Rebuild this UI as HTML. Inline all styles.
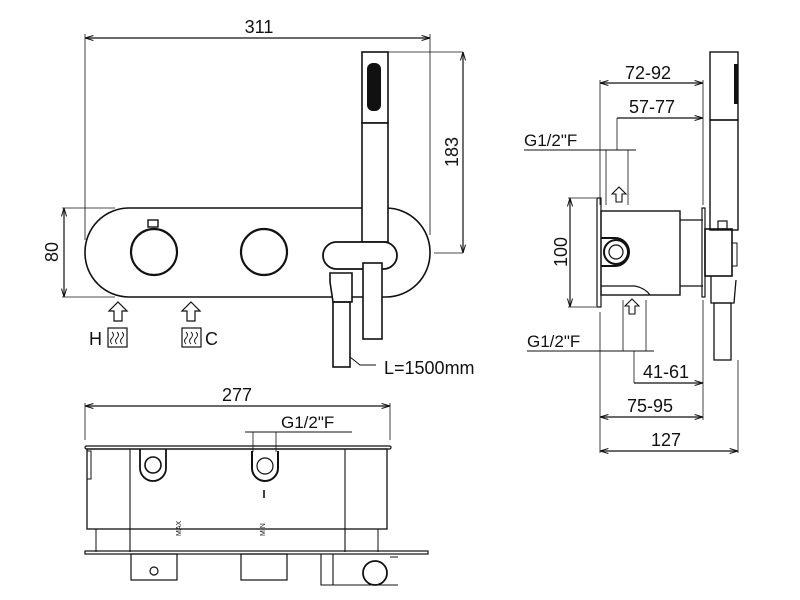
<!DOCTYPE html>
<html><head><meta charset="utf-8"><style>
html,body{margin:0;padding:0;background:#fff;}
svg{display:block;}
text{font-family:"Liberation Sans",Arial,sans-serif;fill:#111;}
</style></head><body>
<svg width="800" height="600" viewBox="0 0 800 600" xmlns="http://www.w3.org/2000/svg">
<defs>
<marker id="a" viewBox="0 0 10 10" refX="10" refY="5" markerWidth="7" markerHeight="7" orient="auto-start-reverse"><path d="M0,2 L10,5 L0,8" fill="none" stroke="#111" stroke-width="1.2"/></marker>
</defs>
<g fill="none" stroke="#111" stroke-width="1.2">
<!-- FRONT VIEW -->
<line x1="85" y1="38" x2="430" y2="38" marker-start="url(#a)" marker-end="url(#a)"/>
<line x1="85" y1="34" x2="85" y2="240" stroke-width="0.8"/>
<line x1="430" y1="34" x2="430" y2="235" stroke-width="0.8"/>
<rect x="85" y="208" width="345" height="89" rx="44" ry="44" stroke-width="1.6"/>
<circle cx="154" cy="252" r="23" stroke-width="2.2"/>
<rect x="148" y="220" width="10" height="7" stroke-width="1.4"/>
<circle cx="264" cy="252" r="23" stroke-width="2.2"/>
<rect x="362" y="52" width="26" height="71" stroke-width="1.6" fill="#fff"/>
<rect x="362" y="123" width="26" height="119" stroke-width="1.6" fill="#fff"/>
<rect x="367" y="63" width="14" height="48" rx="6" fill="#111" stroke="none"/>
<line x1="388" y1="52" x2="463" y2="52" stroke-width="0.8"/>
<line x1="434" y1="253" x2="463" y2="253" stroke-width="0.8"/>
<line x1="463" y1="52" x2="463" y2="253" marker-start="url(#a)" marker-end="url(#a)"/>
<rect x="323" y="242" width="74" height="27" rx="13.5" stroke-width="1.8" fill="#fff"/>
<path d="M330,273 L352,273 L352,302 L333,302 L330,282 Z" stroke-width="1.6" fill="#fff"/>
<rect x="333" y="302" width="17" height="65" stroke-width="1.6"/>
<rect x="363" y="263" width="19" height="76" stroke-width="1.6" fill="#fff"/>
<path d="M350,357 L360,365 L376,365" stroke-width="1"/>
<line x1="64" y1="208" x2="64" y2="297" marker-start="url(#a)" marker-end="url(#a)"/>
<line x1="62" y1="208" x2="115" y2="208" stroke-width="0.8"/>
<line x1="62" y1="297" x2="115" y2="297" stroke-width="0.8"/>
<path d="M118,302 L127,311 L122,311 L122,321 L114,321 L114,311 L109,311 Z" stroke-width="1.2"/>
<path d="M191,302 L200,311 L195,311 L195,321 L187,321 L187,311 L182,311 Z" stroke-width="1.2"/>
<rect x="108" y="328" width="19" height="19" stroke-width="1.2"/>
<path d="M112,332 q3,3 0,6 q-3,3 0,6 M117,332 q3,3 0,6 q-3,3 0,6 M122,332 q3,3 0,6 q-3,3 0,6" stroke-width="0.9"/>
<rect x="182" y="328" width="19" height="19" stroke-width="1.2"/>
<path d="M186,332 q3,3 0,6 q-3,3 0,6 M191,332 q3,3 0,6 q-3,3 0,6 M196,332 q3,3 0,6 q-3,3 0,6" stroke-width="0.9"/>

<!-- SIDE VIEW -->
<line x1="600" y1="83" x2="703" y2="83" marker-start="url(#a)" marker-end="url(#a)"/>
<line x1="617" y1="118" x2="703" y2="118" marker-end="url(#a)"/>
<line x1="617" y1="118" x2="617" y2="150" stroke-width="0.8"/>
<line x1="600" y1="80" x2="600" y2="205" stroke-width="0.8"/>
<line x1="703" y1="80" x2="703" y2="205" stroke-width="0.8"/>
<line x1="524" y1="150" x2="636" y2="150" stroke-width="0.9"/>
<line x1="606" y1="150" x2="606" y2="205" stroke-width="0.8"/>
<line x1="628" y1="150" x2="628" y2="205" stroke-width="0.8"/>
<path d="M619,187 L626,194 L622,194 L622,202 L616,202 L616,194 L612,194 Z" stroke-width="1.1"/>
<rect x="597" y="198" width="4" height="109" stroke-width="1.2"/>
<rect x="601" y="211" width="79" height="84" stroke-width="1.4"/>
<path d="M680,220 L703,220 M680,286 L703,286" stroke-width="1.2"/>
<rect x="702" y="208" width="3" height="89" stroke-width="1.2"/>
<path d="M601,238 L615,238 A14,14 0 0 1 615,266 L601,266" stroke-width="2"/>
<circle cx="616" cy="252" r="12" stroke-width="2"/>
<circle cx="616" cy="252" r="7" stroke-width="1.2"/>
<path d="M601,286 L635,286 Q645,288 650,295" stroke-width="1.2"/>
<line x1="570" y1="198" x2="570" y2="307" marker-start="url(#a)" marker-end="url(#a)"/>
<line x1="568" y1="198" x2="596" y2="198" stroke-width="0.8"/>
<line x1="568" y1="307" x2="596" y2="307" stroke-width="0.8"/>
<rect x="710" y="52" width="28" height="68" stroke-width="1.4"/>
<rect x="710" y="120" width="28" height="110" stroke-width="1.4"/>
<rect x="734" y="64" width="4" height="40" fill="#111" stroke="none"/>
<rect x="705" y="229" width="27" height="47" stroke-width="1.6"/>
<rect x="718" y="221" width="9" height="8" stroke-width="1.2"/>
<rect x="732" y="243" width="5" height="23" stroke-width="1"/>
<path d="M711,276 L711,303 L734,303 L736,280" stroke-width="1.3"/>
<rect x="714" y="303" width="17" height="57" stroke-width="1.3"/>
<line x1="527" y1="351" x2="654" y2="351" stroke-width="0.9"/>
<line x1="623" y1="300" x2="623" y2="351" stroke-width="0.8"/>
<line x1="646" y1="300" x2="646" y2="351" stroke-width="0.8"/>
<path d="M632,299 L639,306 L635,306 L635,314 L629,314 L629,306 L625,306 Z" stroke-width="1.1"/>
<line x1="634" y1="351" x2="634" y2="383" stroke-width="0.8"/>
<line x1="634" y1="383" x2="703" y2="383" marker-end="url(#a)"/>
<line x1="600" y1="312" x2="600" y2="453" stroke-width="0.8"/>
<line x1="703" y1="300" x2="703" y2="420" stroke-width="0.8"/>
<line x1="738" y1="360" x2="738" y2="453" stroke-width="0.8"/>
<line x1="600" y1="417" x2="703" y2="417" marker-start="url(#a)" marker-end="url(#a)"/>
<line x1="600" y1="451" x2="738" y2="451" marker-start="url(#a)" marker-end="url(#a)"/>

<!-- TOP VIEW -->
<line x1="85" y1="406" x2="390" y2="406" marker-start="url(#a)" marker-end="url(#a)"/>
<line x1="85" y1="403" x2="85" y2="440" stroke-width="0.8"/>
<line x1="390" y1="403" x2="390" y2="440" stroke-width="0.8"/>
<line x1="245" y1="432" x2="352" y2="432" stroke-width="0.9"/>
<line x1="253" y1="432" x2="253" y2="452" stroke-width="0.8"/>
<line x1="276" y1="432" x2="276" y2="452" stroke-width="0.8"/>
<rect x="85" y="446" width="306" height="3" rx="1.5" stroke-width="1.2"/>
<rect x="87" y="449" width="300" height="80" stroke-width="1.3"/>
<line x1="130" y1="449" x2="130" y2="552" stroke-width="1.1"/>
<line x1="345" y1="449" x2="345" y2="552" stroke-width="1.1"/>
<rect x="87" y="451" width="4" height="28" stroke-width="1"/>
<path d="M140,449 L140,468 A13,13 0 0 0 166,468 L166,449" stroke-width="1.8"/>
<circle cx="153" cy="465" r="8" stroke-width="1.6"/>
<path d="M252,451 L252,468 A13,13 0 0 0 278,468 L278,451" stroke-width="2"/>
<circle cx="265" cy="466" r="8" stroke-width="1.2"/>
<line x1="264" y1="490" x2="264" y2="498" stroke-width="1.6"/>
<line x1="96" y1="529" x2="96" y2="552" stroke-width="1"/>
<line x1="378" y1="529" x2="378" y2="552" stroke-width="1"/>
<rect x="85" y="551" width="343" height="3" stroke-width="1.2"/>
<rect x="131" y="554" width="46" height="26" stroke-width="1.2"/>
<circle cx="154" cy="571" r="4" stroke-width="1.2"/>
<rect x="241" y="554" width="46" height="26" stroke-width="1.2"/>
<path d="M321,554 L321,585 L398,585 M333,554 L333,585 M390,557 L398,557" stroke-width="1.1"/>
<circle cx="375" cy="573" r="12" stroke-width="1.8"/>
</g>
<g fill="#111" stroke="none" font-size="7">
<text x="181" y="536" font-size="7" transform="rotate(-90 181 536)">MAX</text>
<text x="265" y="536" font-size="7" transform="rotate(-90 265 536)">MIN</text>
</g>
<text x="259" y="33" font-size="18" text-anchor="middle">311</text>
<text x="458" y="152" font-size="18" text-anchor="middle" transform="rotate(-90 458 152)">183</text>
<text x="58" y="252" font-size="18" text-anchor="middle" transform="rotate(-90 58 252)">80</text>
<text x="89" y="345" font-size="18">H</text>
<text x="205" y="345" font-size="18">C</text>
<text x="384" y="374" font-size="18">L=1500mm</text>
<text x="648" y="79" font-size="18" text-anchor="middle">72-92</text>
<text x="652" y="113" font-size="18" text-anchor="middle">57-77</text>
<text x="524" y="146" font-size="17">G1/2"F</text>
<text x="567" y="252" font-size="18" text-anchor="middle" transform="rotate(-90 567 252)">100</text>
<text x="527" y="347" font-size="17">G1/2"F</text>
<text x="666" y="378" font-size="18" text-anchor="middle">41-61</text>
<text x="650" y="412" font-size="18" text-anchor="middle">75-95</text>
<text x="666" y="446" font-size="18" text-anchor="middle">127</text>
<text x="237" y="401" font-size="18" text-anchor="middle">277</text>
<text x="281" y="428" font-size="17">G1/2"F</text>
</svg>
</body></html>
